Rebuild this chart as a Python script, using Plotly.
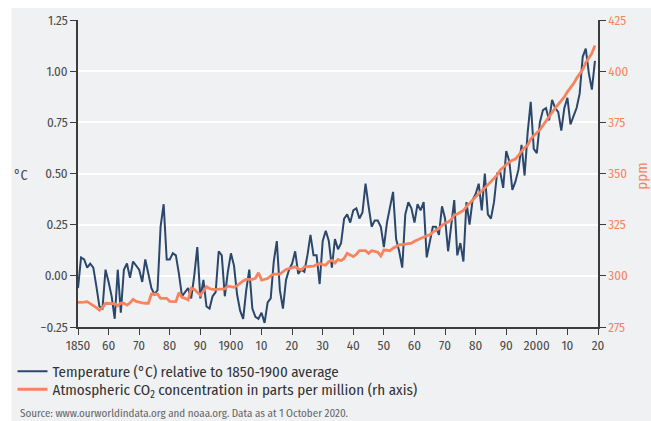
import plotly.graph_objects as go

years = list(range(1850, 2020))

temp_anomaly = [
    -0.06, 0.09, 0.08, 0.04, 0.06, 0.04, -0.05, -0.15, -0.16, 0.03,
    -0.03, -0.10, -0.21, 0.03, -0.18, 0.03, 0.06, -0.01, 0.07, 0.05,
    0.03, -0.03, 0.08, 0.01, -0.06, -0.09, -0.07, 0.24, 0.35, 0.08,
    0.08, 0.11, 0.10, 0.01, -0.10, -0.08, -0.06, -0.11, 0.00, 0.14,
    -0.11, -0.02, -0.15, -0.16, -0.10, -0.08, 0.12, 0.10, -0.10, 0.02,
    0.11, 0.05, -0.09, -0.17, -0.21, -0.07, 0.03, -0.16, -0.20, -0.21,
    -0.18, -0.23, -0.13, -0.11, 0.07, 0.17, -0.07, -0.16, -0.02, 0.03,
    0.06, 0.12, 0.01, 0.03, 0.02, 0.10, 0.20, 0.10, 0.10, -0.04,
    0.17, 0.22, 0.17, 0.04, 0.18, 0.13, 0.16, 0.28, 0.30, 0.26,
    0.32, 0.33, 0.28, 0.31, 0.45, 0.34, 0.24, 0.27, 0.27, 0.24,
    0.14, 0.26, 0.34, 0.41, 0.18, 0.12, 0.04, 0.30, 0.36, 0.33,
    0.26, 0.35, 0.32, 0.36, 0.09, 0.17, 0.24, 0.24, 0.20, 0.34,
    0.28, 0.12, 0.25, 0.37, 0.10, 0.16, 0.07, 0.36, 0.25, 0.37,
    0.40, 0.45, 0.32, 0.50, 0.30, 0.28, 0.36, 0.50, 0.51, 0.43,
    0.61, 0.56, 0.42, 0.46, 0.52, 0.64, 0.49, 0.70, 0.85, 0.62,
    0.60, 0.75, 0.81, 0.82, 0.76, 0.86, 0.82, 0.80, 0.71, 0.82,
    0.87, 0.74, 0.78, 0.82, 0.89, 1.07, 1.11, 0.99, 0.91, 1.05,
]

co2_ppm = [
    287.0, 287.0, 287.2, 287.4, 286.5, 285.5, 284.5, 283.2, 284.5, 286.6,
    286.6, 286.6, 286.4, 285.4, 286.6, 286.6, 285.7, 286.8, 288.5, 287.5,
    287.0, 286.8, 286.6, 286.6, 291.1, 291.1, 291.0, 289.0, 289.0, 289.0,
    287.5, 287.4, 287.4, 291.8, 289.5, 289.0, 288.2, 293.9, 293.4, 292.0,
    290.6, 292.5, 294.7, 293.8, 293.4, 293.4, 293.4, 293.4, 293.6, 295.0,
    294.6, 294.4, 295.2, 296.5, 297.5, 298.3, 298.3, 298.3, 298.8, 301.5,
    297.9, 298.2, 298.7, 300.0, 300.8, 300.8, 300.8, 302.0, 303.1, 303.5,
    304.0, 304.4, 303.5, 302.8, 304.4, 304.5, 304.6, 304.7, 305.5, 306.0,
    305.5, 305.2, 307.0, 307.7, 306.3, 308.0, 307.4, 308.5, 311.0, 310.2,
    309.4, 310.5, 312.3, 312.3, 312.3, 311.0, 312.3, 312.0, 311.5, 309.7,
    312.6, 312.5, 312.3, 313.5, 314.5, 315.1, 315.3, 315.5, 315.6, 316.0,
    316.9, 317.6, 318.4, 319.0, 319.6, 320.0, 321.4, 322.2, 323.1, 324.6,
    325.7, 326.3, 327.5, 329.7, 330.2, 331.1, 332.0, 333.8, 335.4, 336.8,
    338.8, 340.1, 341.4, 343.0, 344.6, 346.0, 347.4, 349.2, 351.6, 353.1,
    354.4, 355.6, 356.5, 357.1, 358.9, 360.9, 362.7, 363.8, 366.8, 368.5,
    369.7, 371.3, 373.5, 375.8, 377.5, 379.8, 381.9, 383.8, 385.6, 387.4,
    389.9, 391.7, 393.9, 396.5, 398.7, 400.8, 404.2, 406.5, 408.7, 412.5,
]

x_tickvals = list(range(1850, 2021, 10))
x_ticktext = ["1850", "60", "70", "80", "90", "1900", "10", "20", "30", "40",
              "50", "60", "70", "80", "90", "2000", "10", "20"]
y_tickvals = [-0.25, 0.0, 0.25, 0.5, 0.75, 1.0, 1.25]
y2_tickvals = [275, 300, 325, 350, 375, 400, 425]

NAVY = "#2b476c"
ORANGE = "#f7845e"
BG = "#f0f1f3"
AXIS = "#3c3c3c"
FONT = "Fira Sans Condensed, Liberation Sans Narrow, DejaVu Sans Condensed, Roboto, sans-serif"

W, H = 651, 421
L, R, T, B = 74, 53, 20, 94
pw, ph = W - L - R, H - T - B


def px_x(px):
    return (px - L) / pw


def px_y(py):
    return (H - B - py) / ph


fig = go.Figure()
fig.add_trace(go.Scatter(
    x=years, y=temp_anomaly, mode="lines",
    name="Temperature (°C) relative to 1850-1900 average",
    line=dict(color=NAVY, width=2), legend="legend",
))
fig.add_trace(go.Scatter(
    x=years, y=co2_ppm, mode="lines", yaxis="y2",
    name="Atmospheric CO<sub>2</sub> concentration in parts per million (rh axis)",
    line=dict(color=ORANGE, width=2.8), legend="legend2",
))

legend_common = dict(xanchor="left", yanchor="top", bgcolor="rgba(0,0,0,0)",
                     font=dict(size=15, color="#333333"), itemwidth=30)

fig.update_layout(
    width=W, height=H,
    margin=dict(l=L, r=R, t=T, b=B),
    paper_bgcolor="white",
    plot_bgcolor="rgba(0,0,0,0)",
    font=dict(family=FONT, size=13, color="#4a4a4a"),
    showlegend=True,
    legend=dict(x=px_x(8), y=px_y(355), **legend_common),
    legend2=dict(x=px_x(8), y=px_y(373), **legend_common),
    xaxis=dict(
        range=[1850, 2020], tickvals=x_tickvals, ticktext=x_ticktext,
        showgrid=False, zeroline=False, showline=True, linecolor=AXIS, linewidth=1.5,
        ticks="outside", ticklen=6, tickcolor=AXIS, tickwidth=1.2,
        tickfont=dict(size=13, color="#4a4a4a"),
    ),
    yaxis=dict(
        range=[-0.25, 1.25], tickvals=y_tickvals, tickformat=".2f",
        showgrid=True, gridcolor="white", gridwidth=1.5, zeroline=False,
        showline=True, linecolor=AXIS, linewidth=1.5,
        ticks="outside", ticklen=6, tickcolor=AXIS, tickwidth=1.2,
        tickfont=dict(size=13, color="#4a4a4a"),
    ),
    yaxis2=dict(
        range=[275, 425], tickvals=y2_tickvals, overlaying="y", side="right",
        showgrid=False, zeroline=False, showline=True, linecolor=AXIS, linewidth=1.5,
        ticks="outside", ticklen=6, tickcolor=AXIS, tickwidth=1.2,
        tickfont=dict(size=13, color=ORANGE),
    ),
    shapes=[dict(
        type="rect", xref="paper", yref="paper", layer="below",
        x0=px_x(7), x1=px_x(W + 5), y0=px_y(H + 5), y1=px_y(8),
        fillcolor=BG, line=dict(width=0),
    )],
    annotations=[
        dict(text="°C", xref="paper", yref="paper", x=px_x(17), y=px_y(175),
             xanchor="center", yanchor="middle",
             showarrow=False, font=dict(size=14, color="#4a4a4a")),
        dict(text="ppm", xref="paper", yref="paper", x=px_x(642), y=px_y(176),
             xanchor="center", yanchor="middle",
             showarrow=False, textangle=-90, font=dict(size=15, color=ORANGE)),
        dict(text="Source: www.ourworldindata.org and noaa.org. Data as at 1 October 2020.",
             xref="paper", yref="paper", x=px_x(14), y=px_y(413), xanchor="left",
             yanchor="middle", showarrow=False, font=dict(size=11, color="#666666")),
    ],
)

fig.write_html("out.html")
